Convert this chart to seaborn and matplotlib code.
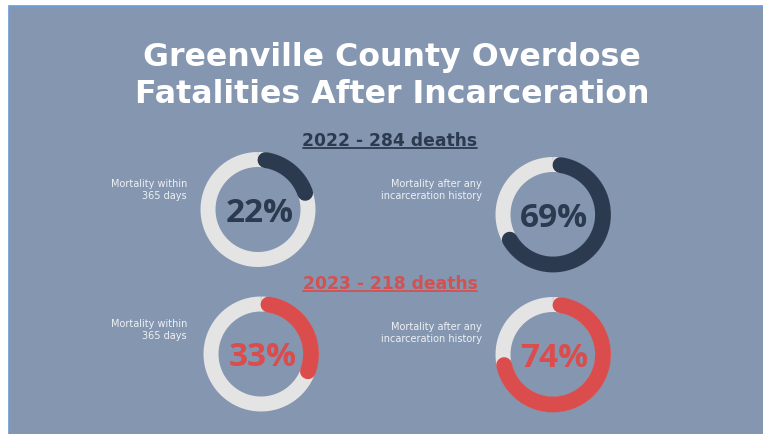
import numpy as np
import matplotlib
matplotlib.use("Agg")
import matplotlib.pyplot as plt
import seaborn as sns
from matplotlib.patches import Rectangle
from matplotlib.lines import Line2D

# ---- data ----
title_lines = ["Greenville County Overdose", "Fatalities After Incarceration"]
years = ["2022", "2023"]
deaths = [284, 218]
metric_labels = ["Mortality within\n365 days", "Mortality after any\nincarceration history"]
pct_2022 = [22, 69]
pct_2023 = [33, 74]

sns.set_theme(style="white")
plt.rcParams['font.family'] = ['DejaVu Sans']

W, H, DPI = 763, 435, 100
fig = plt.figure(figsize=(W / DPI, H / DPI), dpi=DPI, facecolor='white')


def fx(px):
    return px / W


def fy(py):
    return 1 - py / H


PANEL = '#8496b0'
NAVY = '#2c3a4f'
RED = '#db4d4d'
RED_SUB = '#d25252'
RING = '#e4e4e4'
LABEL = '#eef1f5'

panel = Rectangle((fx(9), -0.05), 1.1, fy(7) + 0.05, transform=fig.transFigure,
                  facecolor=PANEL, edgecolor='#6b9bd8', linewidth=1.2, zorder=-5)
fig.patches.append(panel)

# title
for k, (line, base) in enumerate(zip(title_lines, [66, 103])):
    fig.text(fx(392), fy(base), line, ha='center', va='baseline', color='white',
             fontsize=22.8, fontweight='bold')

# subtitles with underline
sub_specs = [(146, NAVY), (289, RED_SUB)]
sub_texts = []
for (year, d), (base, col) in zip(zip(years, deaths), sub_specs):
    t = fig.text(fx(390), fy(base), f"{year} - {d} deaths", ha='center', va='baseline',
                 color=col, fontsize=12.3, fontweight='bold')
    sub_texts.append((t, base, col))

# donuts
ring_r, rmax = 1.0, 1.3
ring_px, lw_px = 50, 15
S = 2 * ring_px * rmax
lw_pt = lw_px * 72 / DPI
centers = [[(258, 210.5), (553, 215.5)], [(261, 355), (553, 355.5)]]
label_pos = [[(187, 190), (482, 190)], [(187, 330), (482, 333.5)]]

for i, vals in enumerate([pct_2022, pct_2023]):
    color = NAVY if i == 0 else RED
    for j, v in enumerate(vals):
        cx, cy = centers[i][j]
        ax = fig.add_axes([fx(cx - S / 2), fy(cy + S / 2), S / W, S / H], projection='polar')
        ax.set_theta_zero_location('N')
        ax.set_theta_direction(-1)
        ax.set_ylim(0, rmax)
        ax.set_axis_off()
        ax.patch.set_alpha(0)
        th = np.linspace(0, 2 * np.pi, 400)
        ax.plot(th, np.full_like(th, ring_r), color=RING, lw=lw_pt, solid_capstyle='butt')
        cap = (lw_px / 2) / ring_px
        th2 = np.linspace(cap, 2 * np.pi * v / 100 - cap, 300)
        ax.plot(th2, np.full_like(th2, ring_r), color=color, lw=lw_pt + 0.6, solid_capstyle='round')
        ax.text(0.51, 0.51, f"{v}%", transform=ax.transAxes, ha='center', va='center_baseline',
                color=color, fontsize=24, fontweight='bold', family=['Open Sans', 'DejaVu Sans'])
        lx, ly = label_pos[i][j]
        fig.text(fx(lx), fy(ly), metric_labels[j], ha='right', va='center', fontsize=7.0,
                 color=LABEL, linespacing=1.25)

fig.canvas.draw()
r = fig.canvas.get_renderer()
for t, base, col in sub_texts:
    bb = t.get_window_extent(renderer=r)
    y = fy(base + 2.5)
    fig.lines.append(Line2D([bb.x0 / W, bb.x1 / W], [y, y], transform=fig.transFigure,
                            color=col, lw=1.3))

fig.savefig("out.png", dpi=DPI, facecolor='white')
